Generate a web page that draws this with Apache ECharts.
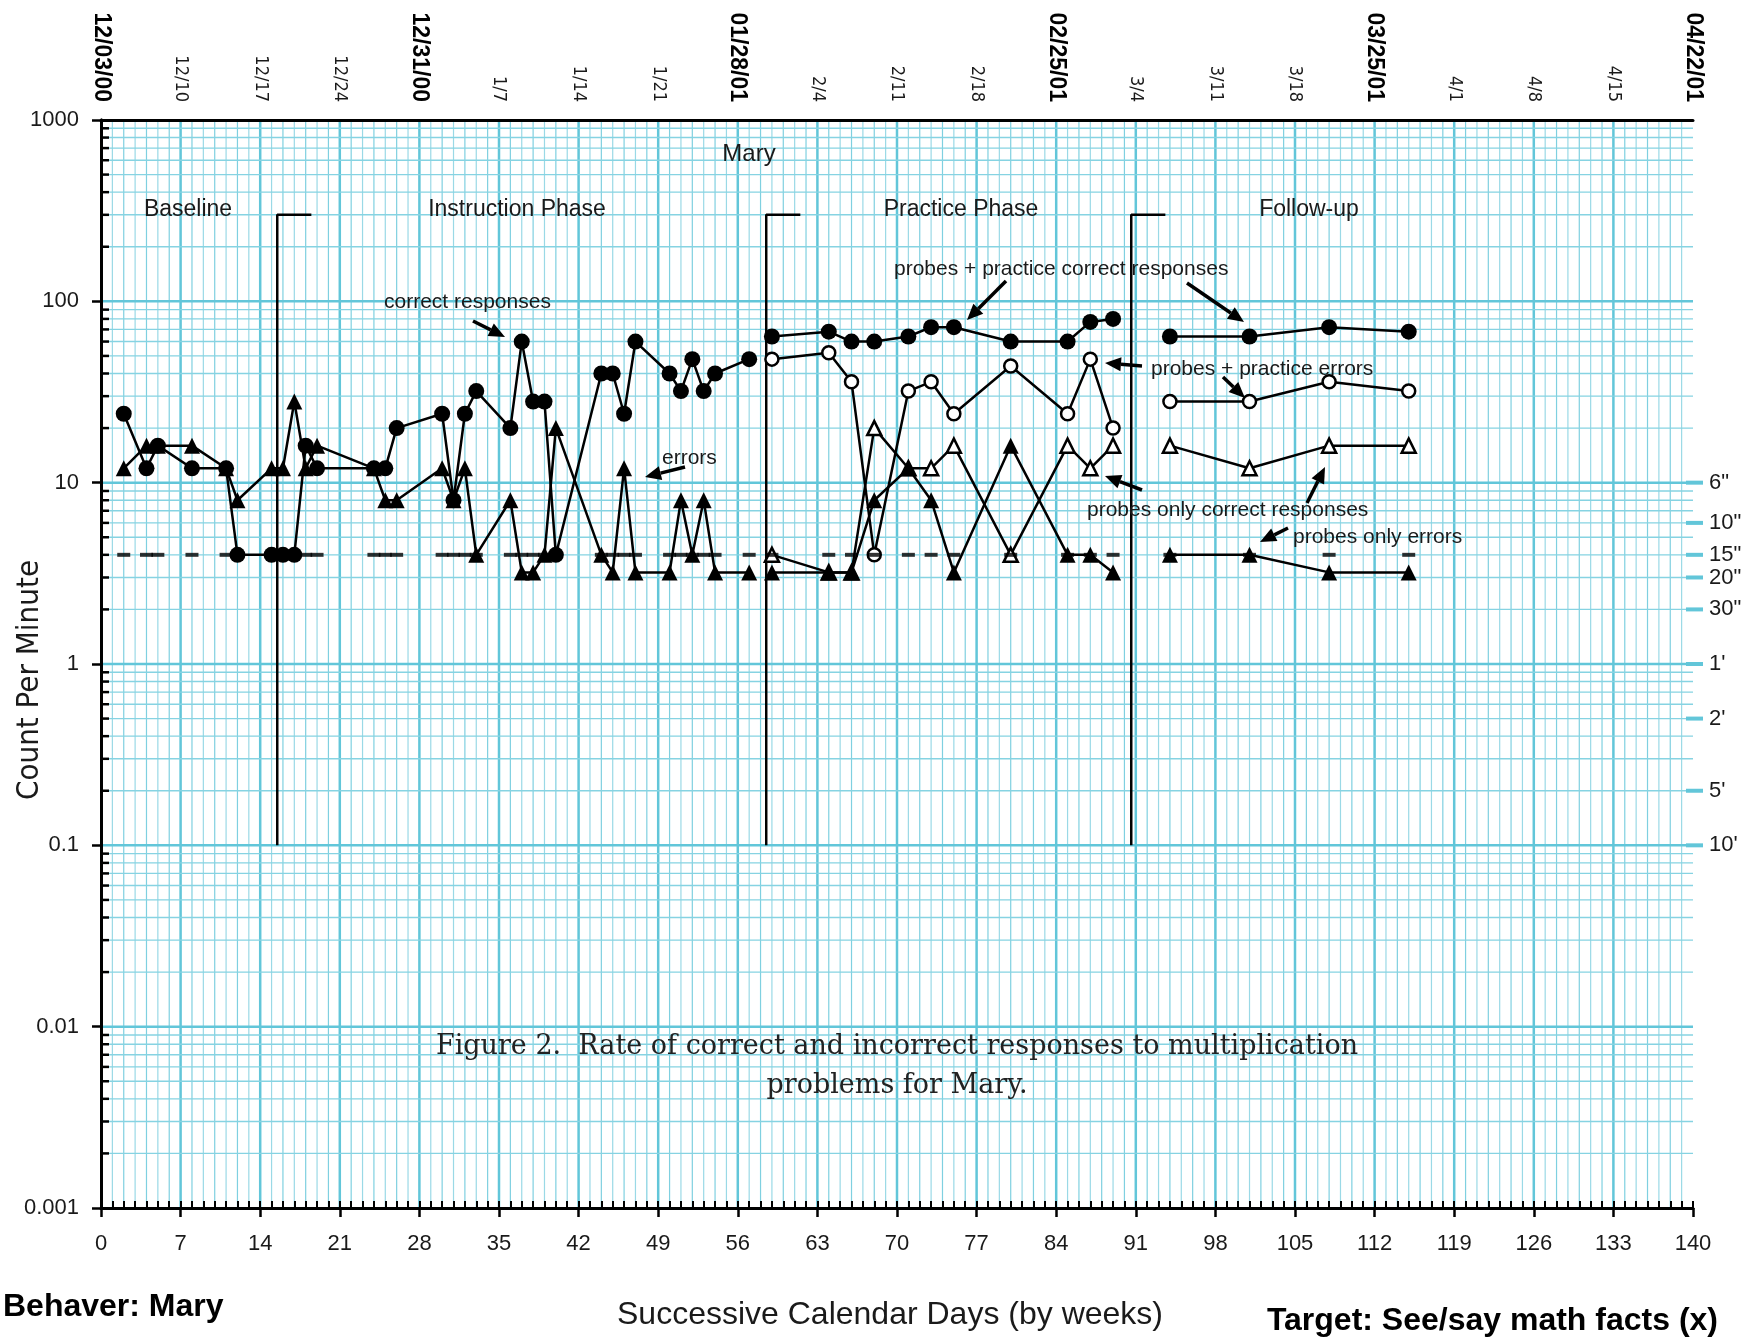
<!DOCTYPE html>
<html>
<head>
<meta charset="utf-8">
<title>Mary - Standard Celeration Chart</title>
<script src="https://cdn.jsdelivr.net/npm/echarts@6/dist/echarts.min.js"></script>
<style>
  html, body { margin: 0; padding: 0; background: #fff; }
  #chart { width: 1759px; height: 1341px; }
</style>
</head>
<body>
<div id="chart"></div>
<script>
// ---- data ----
// baseline + instruction phase (same session days for both series)
const baseDays = [2, 4, 5, 8, 11, 12, 15, 16, 17, 18, 19, 24, 25, 26, 30, 31, 32, 33, 36, 37, 38, 39, 40, 44, 45, 46, 47, 50, 51, 52, 53, 54, 57];
const baseCorrect = [24, 12, 16, 12, 12, 4, 4, 4, 4, 16, 12, 12, 12, 20, 24, 8, 24, 32, 20, 60, 28, 28, 4, 40, 40, 24, 60, 40, 32, 48, 32, 40, 48];
const baseErrors = [12, 16, 16, 16, 12, 8, 12, 12, 28, 12, 16, 12, 8, 8, 12, 8, 12, 4, 8, 3.2, 3.2, 4, 20, 4, 3.2, 12, 3.2, 3.2, 8, 4, 8, 3.2, 3.2];

// practice phase
const practiceDays = [59, 64, 66, 68, 71, 73, 75, 80, 85, 87, 89];
const practiceCorrect = [64, 68, 60, 60, 64, 72, 72, 60, 60, 77, 80];
const practiceErrors = [48, 52, 36, 4, 32, 36, 24, 44, 24, 48, 20];
const practiceProbeCorrect = [4, 3.2, 3.2, 20, 12, 12, 16, 4, 16, 12, 16];
const practiceProbeErrors = [3.2, 3.2, 3.2, 8, 12, 8, 3.2, 16, 4, 4, 3.2];

// follow-up
const followDays = [94, 101, 108, 115];
const followCorrect = [64, 64, 72, 68];
const followErrors = [28, 28, 36, 32];
const followProbeCorrect = [16, 12, 16, 16];
const followProbeErrors = [4, 4, 3.2, 3.2];

// record floor (15 seconds -> 4 per minute)
const recordFloor = 4;

// phase change lines
const phaseDays = [15.5, 58.5, 90.6];
const phaseTop = 300;
const phaseBottom = 0.1;
const phaseHook = 3;

// axis labels
const topDateLabels = ['12/03/00', '12/10', '12/17', '12/24', '12/31/00', '1/7', '1/14', '1/21', '01/28/01', '2/4', '2/11', '2/18',
  '02/25/01', '3/4', '3/11', '3/18', '03/25/01', '4/1', '4/8', '4/15', '04/22/01'];
const floorValues = [10, 6, 4, 3, 2, 1, 0.5, 0.2, 0.1];
const floorLabels = ['6"', '10"', '15"', '20"', '30"', "1'", "2'", "5'", "10'"];

// ---- helpers ----
const SANS = "'Liberation Sans', Arial, sans-serif";
const NARROW = "'Liberation Sans Narrow', 'DejaVu Sans Condensed', 'Liberation Sans', sans-serif";
const SERIF = "'DejaVu Serif', 'Liberation Serif', serif";
const CYAN = '#62c6d9';
const CYAN_LIGHT = '#9ad9e6';

const pairs = (days, vals) => days.map((d, i) => [d, vals[i]]);

const markerStyles = {
  filledCircle: { symbol: 'circle', symbolSize: 16, itemStyle: { color: '#000' }, z: 22 },
  filledTriangle: { symbol: 'triangle', symbolSize: 16, itemStyle: { color: '#000' }, z: 21 },
  openCircle: { symbol: 'circle', symbolSize: 13, itemStyle: { color: '#fff', borderColor: '#000', borderWidth: 2.5 }, z: 20 },
  openTriangle: { symbol: 'triangle', symbolSize: 14, itemStyle: { color: '#fff', borderColor: '#000', borderWidth: 2.5 }, z: 19 }
};

function lineSeries(name, days, vals, style) {
  return Object.assign({
    type: 'line',
    name: name,
    data: pairs(days, vals),
    xAxisIndex: 0,
    yAxisIndex: 0,
    showSymbol: true,
    lineStyle: { color: '#000', width: 2.5 },
    animation: false,
    clip: false
  }, style);
}

function arrow(x1, y1, x2, y2) {
  const a = Math.atan2(y2 - y1, x2 - x1);
  const L = 16, W = 7;
  const bx = x2 - L * Math.cos(a), by = y2 - L * Math.sin(a);
  const px = -Math.sin(a) * W, py = Math.cos(a) * W;
  return {
    type: 'group', z: 100,
    children: [
      { type: 'line', z: 100, shape: { x1: x1, y1: y1, x2: bx, y2: by }, style: { stroke: '#000', lineWidth: 3.5 } },
      { type: 'polygon', z: 100, shape: { points: [[x2, y2], [bx + px, by + py], [bx - px, by - py]] }, style: { fill: '#000' } }
    ]
  };
}

function label(text, x, y, size, align, extra) {
  return {
    type: 'text', x: x, y: y, z: 100,
    style: Object.assign({ text: text, fontSize: size, fontFamily: SANS, fill: '#1a1a1a', align: align || 'left', verticalAlign: 'middle' }, extra || {})
  };
}

// grid lines (every day, every multiple on the log scale)
const gridDays = [];
for (let d = 1; d < 140; d++) gridDays.push([d]);
const gridValues = [];
for (let e = -3; e <= 2; e++) {
  for (let m = 1; m <= 9; m++) {
    const v = Number((m * Math.pow(10, e)).toPrecision(2));
    if (v > 0.001) gridValues.push([v, m]);
  }
}

const allDays = baseDays.concat(practiceDays, followDays);

const series = [
  {
    type: 'custom', name: 'dayGrid', xAxisIndex: 0, yAxisIndex: 0, z: 1, silent: true, animation: false,
    data: gridDays,
    renderItem: function (params, api) {
      const d = api.value(0);
      const p1 = api.coord([d, 1000]);
      const p2 = api.coord([d, 0.001]);
      const major = d % 7 === 0;
      return {
        type: 'line',
        shape: { x1: p1[0], y1: p1[1], x2: p2[0], y2: p2[1] },
        style: { stroke: major ? CYAN : (d % 2 ? CYAN_LIGHT : '#7fd0e0'), lineWidth: major ? 2.5 : 1.2 }
      };
    }
  },
  {
    type: 'custom', name: 'valueGrid', xAxisIndex: 0, yAxisIndex: 0, z: 2, silent: true, animation: false,
    data: gridValues,
    renderItem: function (params, api) {
      const v = api.value(0);
      const m = api.value(1);
      const p1 = api.coord([0, v]);
      const p2 = api.coord([140, v]);
      const decade = m === 1;
      const children = [{
        type: 'line',
        shape: { x1: p1[0], y1: p1[1], x2: p2[0], y2: p2[1] },
        style: { stroke: decade ? CYAN : '#86d3e2', lineWidth: decade ? 2.5 : 1.4 }
      }];
      if (!decade) {
        children.push({ type: 'line', shape: { x1: p1[0], y1: p1[1], x2: p1[0] + 8, y2: p1[1] }, style: { stroke: '#000', lineWidth: 2.5 }, z2: 10 });
      }
      return { type: 'group', children: children };
    }
  },
  {
    type: 'custom', name: 'floorScale', xAxisIndex: 0, yAxisIndex: 0, z: 12, silent: true, animation: false, clip: false,
    data: floorValues.map((v, i) => [140, v, i]),
    renderItem: function (params, api) {
      const p = api.coord([api.value(0), api.value(1)]);
      return {
        type: 'group',
        children: [
          { type: 'line', shape: { x1: p[0] - 7, y1: p[1], x2: p[0] + 10, y2: p[1] }, style: { stroke: CYAN, lineWidth: 4 } },
          { type: 'text', x: p[0] + 16, y: p[1], style: { text: floorLabels[api.value(2)], fontSize: 22, fontFamily: SANS, fill: '#1a1a1a', align: 'left', verticalAlign: 'middle' } }
        ]
      };
    }
  },
  {
    type: 'scatter', name: 'record floor', xAxisIndex: 0, yAxisIndex: 0, z: 23, animation: false,
    symbol: 'rect', symbolSize: [13, 4], itemStyle: { color: '#000' },
    data: allDays.map(d => [d, recordFloor])
  }
];

phaseDays.forEach(function (d, i) {
  series.push({
    type: 'line', name: 'phase' + i, xAxisIndex: 0, yAxisIndex: 0, z: 18, animation: false, showSymbol: false, symbol: 'none',
    lineStyle: { color: '#000', width: 2.5 },
    data: [[d, phaseBottom], [d, phaseTop], [d + phaseHook, phaseTop]]
  });
});

series.push(
  lineSeries('errors', baseDays, baseErrors, markerStyles.filledTriangle),
  lineSeries('correct responses', baseDays, baseCorrect, markerStyles.filledCircle),
  lineSeries('probes + practice errors', practiceDays, practiceErrors, markerStyles.openCircle),
  lineSeries('probes only correct responses', practiceDays, practiceProbeCorrect, markerStyles.openTriangle),
  lineSeries('probes only errors', practiceDays, practiceProbeErrors, markerStyles.filledTriangle),
  lineSeries('probes + practice correct responses', practiceDays, practiceCorrect, markerStyles.filledCircle),
  lineSeries('probes + practice errors', followDays, followErrors, markerStyles.openCircle),
  lineSeries('probes only correct responses', followDays, followProbeCorrect, markerStyles.openTriangle),
  lineSeries('probes only errors', followDays, followProbeErrors, markerStyles.filledTriangle),
  lineSeries('probes + practice correct responses', followDays, followCorrect, markerStyles.filledCircle)
);

const option = {
  animation: false,
  backgroundColor: '#fff',
  textStyle: { fontFamily: SANS },
  grid: { left: 101, top: 120, width: 1592, height: 1088, containLabel: false, outerBoundsMode: 'none' },
  xAxis: [
    {
      type: 'value', position: 'bottom', min: 0, max: 140, interval: 7, z: 10,
      axisLine: { show: true, lineStyle: { color: '#000', width: 3 } },
      axisTick: { show: true, length: 9, lineStyle: { color: '#000', width: 2.5 } },
      axisLabel: { fontSize: 22, color: '#1a1a1a', margin: 25, fontFamily: SANS },
      splitLine: { show: false }
    },
    {
      type: 'value', position: 'bottom', min: 0, max: 140, interval: 1, z: 10,
      axisLine: { show: false },
      axisTick: { show: true, inside: true, length: 7, lineStyle: { color: '#000', width: 2 } },
      axisLabel: { show: false },
      splitLine: { show: false }
    },
    {
      type: 'value', position: 'top', min: 0, max: 140, interval: 7, z: 10,
      axisLine: { show: true, lineStyle: { color: '#000', width: 3 } },
      axisTick: { show: false },
      splitLine: { show: false },
      axisLabel: {
        rotate: 90, margin: 18,
        formatter: function (v) {
          const i = Math.round(v / 7);
          const t = topDateLabels[i];
          return i % 4 === 0 ? '{b|' + t + '}' : '{n|' + t + '}';
        },
        rich: {
          b: { fontSize: 23, fontWeight: 'bold', fontFamily: SANS, color: '#000' },
          n: { fontSize: 18, fontFamily: NARROW, color: '#1a1a1a' }
        }
      }
    }
  ],
  yAxis: [
    {
      type: 'log', logBase: 10, min: 0.001, max: 1000, z: 10,
      axisLine: { show: true, lineStyle: { color: '#000', width: 3 } },
      axisTick: { show: true, length: 9, lineStyle: { color: '#000', width: 2.5 } },
      axisLabel: {
        fontSize: 22, color: '#1a1a1a', margin: 22, fontFamily: SANS,
        formatter: v => String(Number(Number(v).toPrecision(1)))
      },
      splitLine: { show: false },
      minorTick: { show: false },
      minorSplitLine: { show: false }
    },
    {
      type: 'log', logBase: 10, min: 0.001, max: 1000, position: 'right', z: 10,
      axisLine: { show: true, lineStyle: { color: '#000', width: 3 } },
      axisTick: { show: false },
      axisLabel: { show: false },
      splitLine: { show: false }
    }
  ],
  series: series,
  graphic: [
    label('Mary', 749, 154, 24, 'center'),
    label('Baseline', 188, 210, 23, 'center'),
    label('Instruction Phase', 517, 210, 23, 'center'),
    label('Practice Phase', 961, 210, 23, 'center'),
    label('Follow-up', 1309, 210, 23, 'center'),

    label('correct responses', 384, 302, 21, 'left'),
    arrow(473, 321, 505, 337),
    label('errors', 662, 458, 21, 'left'),
    arrow(685, 467, 645, 477),
    label('probes + practice correct responses', 894, 269, 21, 'left'),
    arrow(1006, 281, 967, 320),
    arrow(1187, 283, 1244, 322),
    label('probes + practice errors', 1151, 369, 21, 'left'),
    arrow(1142, 366, 1105, 363),
    arrow(1223, 377, 1245, 398),
    label('probes only correct responses', 1087, 510, 21, 'left'),
    arrow(1142, 490, 1105, 476),
    arrow(1307, 503, 1325, 467),
    label('probes only errors', 1293, 537, 21, 'left'),
    arrow(1288, 528, 1260, 542),

    label('Figure 2.  Rate of correct and incorrect responses to multiplication', 897, 1047, 27, 'center', { fontFamily: SERIF, fill: '#222' }),
    label('problems for Mary.', 897, 1086, 27, 'center', { fontFamily: SERIF, fill: '#222' }),

    { type: 'text', x: 30, y: 680, z: 100, rotation: Math.PI / 2,
      style: { text: 'Count Per Minute', fontSize: 31, fontFamily: NARROW, fill: '#1a1a1a', align: 'center', verticalAlign: 'middle' } },
    label('Successive Calendar Days (by weeks)', 890, 1315, 32, 'center'),
    label('Behaver: Mary', 3, 1307, 32, 'left', { fontWeight: 'bold', fill: '#000' }),
    label('Target: See/say math facts (x)', 1718, 1321, 32, 'right', { fontWeight: 'bold', fill: '#000' })
  ]
};

const chart = echarts.init(document.getElementById('chart'), null, { renderer: 'canvas' });
chart.setOption(option);
</script>
</body>
</html>
